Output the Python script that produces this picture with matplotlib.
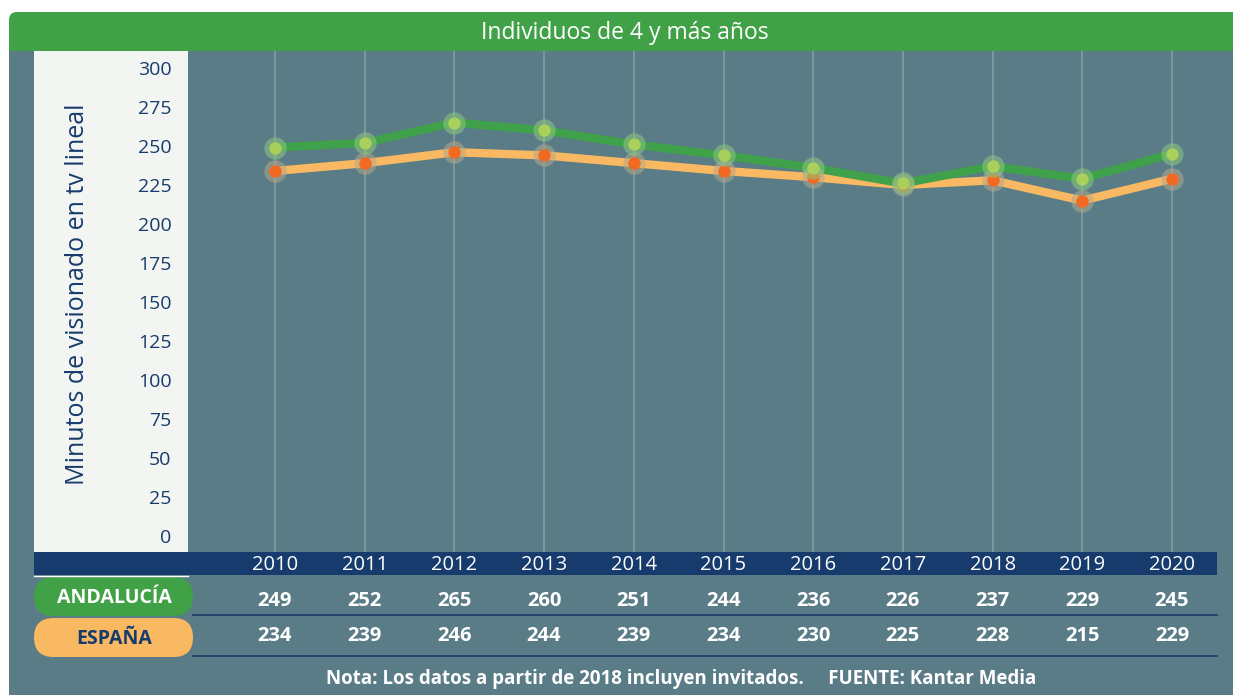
import matplotlib
matplotlib.use("Agg")
import matplotlib.pyplot as plt
from matplotlib.patches import FancyBboxPatch, Rectangle
from matplotlib.transforms import blended_transform_factory

# data
years = [2010, 2011, 2012, 2013, 2014, 2015, 2016, 2017, 2018, 2019, 2020]
andalucia = [249, 252, 265, 260, 251, 244, 236, 226, 237, 229, 245]
espana = [234, 239, 246, 244, 239, 234, 230, 225, 228, 215, 229]
yticks = [0, 25, 50, 75, 100, 125, 150, 175, 200, 225, 250, 275, 300]

title = "Individuos de 4 y más años"
ylabel = "Minutos de visionado en tv lineal"
note = "Nota: Los datos a partir de 2018 incluyen invitados.     FUENTE: Kantar Media"

# colours
panel = "#5a7c87"
header = "#41a147"
light = "#f3f5f2"
navy = "#173b6c"
grid_c = "#7d9ba3"
green_line = "#3fa24a"
green_dot = "#a8d05a"
orange_line = "#f9b862"
orange_dot = "#f26a21"

plt.rcParams['font.family'] = ['Open Sans', 'DejaVu Sans']

W, H = 1233, 695
fig = plt.figure(figsize=(W / 100, H / 100), dpi=100)
fig.patch.set_facecolor("white")

# background axes in pixel coordinates (y down)
bg = fig.add_axes([0, 0, 1, 1])
bg.set_xlim(0, W)
bg.set_ylim(H, 0)
bg.axis("off")

bg.add_patch(FancyBboxPatch((9, 12), W - 9 + 20, 80, boxstyle="round,pad=0,rounding_size=8",
                            fc=header, ec="none"))
bg.add_patch(Rectangle((9, 51), W - 9, H - 51, fc=panel, ec="none"))
bg.add_patch(Rectangle((34, 51), 154, 501, fc=light, ec="none"))
bg.add_patch(Rectangle((34, 552), 1183, 23, fc=navy, ec="none"))
bg.plot([34, 188], [576, 576], color="white", lw=1)
bg.text(625, 33, title, color="white", fontsize=16.5, ha="center", va="center")

# table pills
bg.add_patch(FancyBboxPatch((34, 577), 159, 39, boxstyle="round,pad=0,rounding_size=19.5",
                            fc=header, ec="none", mutation_aspect=1))
bg.add_patch(FancyBboxPatch((34, 618), 159, 39, boxstyle="round,pad=0,rounding_size=19.5",
                            fc=orange_line, ec="none", mutation_aspect=1))
bg.text(114, 598, "ANDALUCÍA", color="white", fontsize=14, fontweight="bold",
        ha="center", va="center")
bg.text(114, 639, "ESPAÑA", color=navy, fontsize=14, fontweight="bold",
        ha="center", va="center")
bg.plot([193, 1217], [615, 615], color=navy, lw=1.2)
bg.plot([193, 1217], [656, 656], color=navy, lw=1.2)
bg.text(681, 679, note, color="white", fontsize=13.5, fontweight="bold",
        ha="center", va="center")

# y label in the light column
bg.text(78, 294, ylabel, color=navy, fontsize=18, rotation=90,
        ha="center", va="center")

# main plot area: x 188..1217, y 51..552 px
ax = fig.add_axes([188 / W, 1 - 552 / H, (1217 - 188) / W, (552 - 51) / H])
ax.set_facecolor("none")
px_per_year = (1172 - 275) / 10
ax.set_xlim(2010 - (275 - 188) / px_per_year, 2020 + (1217 - 1172) / px_per_year)
px_per_unit = (536 - 68) / 300
ax.set_ylim(-(552 - 536) / px_per_unit, 300 + (68 - 51) / px_per_unit)
for s in ax.spines.values():
    s.set_visible(False)
ax.set_xticks(years)
ax.tick_params(axis="x", length=0, labelbottom=False)
ax.grid(axis="x", color=grid_c, lw=1.3)
ax.set_yticks(yticks)
ax.tick_params(axis="y", length=0, pad=12, labelcolor=navy, labelsize=14)

ax.plot(years, espana, color=orange_line, lw=6, solid_joinstyle="round",
        solid_capstyle="round", zorder=2)
ax.plot(years, andalucia, color=green_line, lw=6, solid_joinstyle="round",
        solid_capstyle="round", zorder=3)
ax.scatter(years, espana, s=260, color="#b5a98a", alpha=0.55, lw=0, zorder=4)
ax.scatter(years, espana, s=80, color=orange_dot, lw=0, zorder=5)
ax.scatter(years, andalucia, s=260, color="#8cc77e", alpha=0.55, lw=0, zorder=6)
ax.scatter(years, andalucia, s=80, color=green_dot, lw=0, zorder=7)

# year labels and table values aligned with the data x positions
tr = blended_transform_factory(ax.transData, bg.transData)
for i, yr in enumerate(years):
    bg.text(yr, 565, str(yr), transform=tr, color="white", fontsize=14.5,
            ha="center", va="center")
    bg.text(yr, 601, str(andalucia[i]), transform=tr, color="white", fontsize=14.5,
            fontweight="bold", ha="center", va="center")
    bg.text(yr, 636, str(espana[i]), transform=tr, color="white", fontsize=14.5,
            fontweight="bold", ha="center", va="center")

fig.savefig("out.png", dpi=100, facecolor="white")
